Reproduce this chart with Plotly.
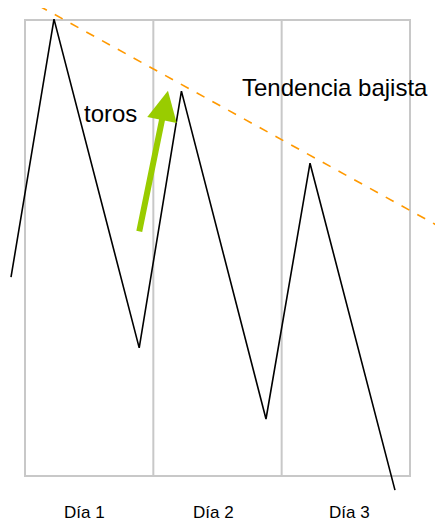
import plotly.graph_objects as go

# Data (x in days, y in relative price units: box = 0..3 days, 0..100)
price_x = [-0.109, 0.226, 0.890, 1.219, 1.878, 2.221, 2.883]
price_y = [43.6, 100.2, 28.1, 84.4, 12.5, 68.6, -3.1]

trend_x = [0.109, 3.26]
trend_y = [103.1, 54.2]

arrow_tail = (0.888, 53.3)
arrow_head = (1.114, 84.5)

day_labels = ["Día 1", "Día 2", "Día 3"]
day_label_x = [0.46, 1.465, 2.53]
day_label_y = -7.9

day_bounds = [0, 1, 2, 3]

# page offset caused by the default 8px body margin
OFF = 8
PX_PER_DAY = 128.33
PX_PER_UNIT = 4.56

fig = go.Figure()

# box + gridlines
fig.add_shape(type="rect", x0=0, x1=3, y0=0, y1=100, xref="x", yref="y",
              line=dict(color="#C8C8C8", width=2), layer="below")
for b in day_bounds[1:-1]:
    fig.add_shape(type="line", x0=b, x1=b, y0=0, y1=100, xref="x", yref="y",
                  line=dict(color="#C8C8C8", width=2), layer="below")

fig.add_trace(go.Scatter(x=price_x, y=price_y, mode="lines",
                         line=dict(color="black", width=1.6), hoverinfo="skip"))
fig.add_trace(go.Scatter(x=trend_x, y=trend_y, mode="lines",
                         line=dict(color="#FF9900", width=1.6, dash="dash"), hoverinfo="skip"))

fig.add_annotation(x=arrow_head[0], y=arrow_head[1], ax=arrow_tail[0], ay=arrow_tail[1],
                   xref="x", yref="y", axref="x", ayref="y", text="",
                   showarrow=True, arrowhead=2, arrowsize=1.0, arrowwidth=6,
                   arrowcolor="#99CC00", standoff=0, startstandoff=0)

fig.add_annotation(x=0.67, y=79.6, xref="x", yref="y", text="toros", showarrow=False,
                   font=dict(family="Liberation Sans, Arial", size=24, color="black"))
fig.add_annotation(x=2.412, y=85.3, xref="x", yref="y", text="Tendencia bajista", showarrow=False,
                   font=dict(family="Liberation Sans, Arial", size=24, color="black"))

for lbl, lx in zip(day_labels, day_label_x):
    fig.add_annotation(x=lx, y=day_label_y, xref="x", yref="y", text=lbl, showarrow=False,
                       font=dict(family="Liberation Sans, Arial", size=17, color="black"))

W, H = 443 - OFF, 523 - OFF
fig.update_layout(
    width=W, height=H,
    margin=dict(l=0, r=0, t=0, b=0),
    paper_bgcolor="white", plot_bgcolor="white",
    showlegend=False,
    xaxis=dict(range=[(OFF - 25) / PX_PER_DAY, (443 - 25) / PX_PER_DAY], visible=False, fixedrange=True),
    yaxis=dict(range=[(476 - 523) / PX_PER_UNIT, (476 - OFF) / PX_PER_UNIT], visible=False, fixedrange=True),
)

fig.write_html("out.html")
